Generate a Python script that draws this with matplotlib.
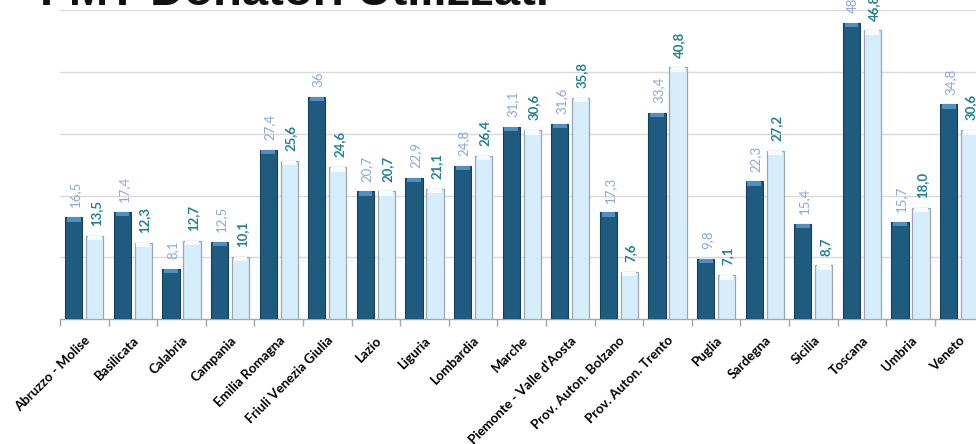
import matplotlib
matplotlib.use("Agg")
import matplotlib.pyplot as plt
import numpy as np

categories = ["Abruzzo - Molise", "Basilicata", "Calabria", "Campania", "Emilia Romagna",
              "Friuli Venezia Giulia", "Lazio", "Liguria", "Lombardia", "Marche",
              "Piemonte - Valle d'Aosta", "Prov. Auton. Bolzano", "Prov. Auton. Trento",
              "Puglia", "Sardegna", "Sicilia", "Toscana", "Umbria", "Veneto"]
series_a = [16.5, 17.4, 8.1, 12.5, 27.4, 36, 20.7, 22.9, 24.8, 31.1, 31.6, 17.3, 33.4,
            9.8, 22.3, 15.4, 48, 15.7, 34.8]
series_b = [13.5, 12.3, 12.7, 10.1, 25.6, 24.6, 20.7, 21.1, 26.4, 30.6, 35.8, 7.6, 40.8,
            7.1, 27.2, 8.7, 46.8, 18.0, 30.6]
title = "FMT Donatori Utilizzati"

dark = "#1F5A7F"
dark_cap = "#4F90C0"
light = "#D6EEFB"
light_cap = "#F7FCFF"
lab_a = "#8AA8D6"
lab_b = "#23808F"

fig = plt.figure(figsize=(9.76, 4.44), dpi=100)
ax = fig.add_axes([60 / 976, (444 - 319) / 444, 19 * 48.6 / 976, 308.5 / 444])

x = np.arange(len(categories))
w = 0.355
off = 0.215
cap = 0.7

ax.bar(x - off, series_a, width=w, color=dark, edgecolor="#173F5A", linewidth=0.8, zorder=3)
ax.bar(x - off, [cap] * len(x), bottom=np.array(series_a) - cap, width=w * 0.8,
       color=dark_cap, linewidth=0, zorder=4)
ax.bar(x + off, series_b, width=w, color=light, edgecolor="#9AA6B0", linewidth=0.9, zorder=3)
ax.bar(x + off, [cap] * len(x), bottom=np.array(series_b) - cap, width=w * 0.8,
       color=light_cap, linewidth=0, zorder=4)


def fmt_a(v):
    return str(int(v)) if float(v).is_integer() else f"{v:.1f}".replace(".", ",")


def fmt_b(v):
    return f"{v:.1f}".replace(".", ",")


for xi, v in zip(x, series_a):
    ax.annotate(fmt_a(v), (xi - off, v), xytext=(1, 7), textcoords="offset points",
                rotation=90, ha="center", va="bottom", fontsize=9.5, color=lab_a,
                family="Lato", annotation_clip=False, zorder=5)
for xi, v in zip(x, series_b):
    ax.annotate(fmt_b(v), (xi + off, v), xytext=(1, 7), textcoords="offset points",
                rotation=90, ha="center", va="bottom", fontsize=9.5, color=lab_b,
                family="Lato", fontweight="bold", annotation_clip=False, zorder=5)

ax.set_xlim(-0.5, len(categories) - 0.5)
ax.set_ylim(0, 50)
ax.set_yticks([10, 20, 30, 40, 50])
ax.yaxis.grid(True, color="#D9D9D9", linewidth=1.0, zorder=0)
ax.tick_params(axis="y", length=0, labelleft=False)

ax.set_xticks(x)
ax.set_xticklabels(categories, rotation=45, ha="right", rotation_mode="anchor",
                   fontsize=9.5, fontweight="bold", family="Lato")
ax.set_xticks(np.arange(len(categories) + 1) - 0.5, minor=True)
ax.tick_params(axis="x", which="major", length=0, pad=11)
ax.tick_params(axis="x", which="minor", length=5, color="#A6A6A6", width=1)

for s in ["top", "right", "left"]:
    ax.spines[s].set_visible(False)
ax.spines["bottom"].set_color("#A6A6A6")
ax.spines["bottom"].set_linewidth(1)

fig.text(40 / 976, 1 - 5 / 444, title, fontsize=34, fontweight="bold",
         family="Liberation Sans", color="#111111", ha="left", va="baseline")

fig.savefig("out.png", dpi=100)
